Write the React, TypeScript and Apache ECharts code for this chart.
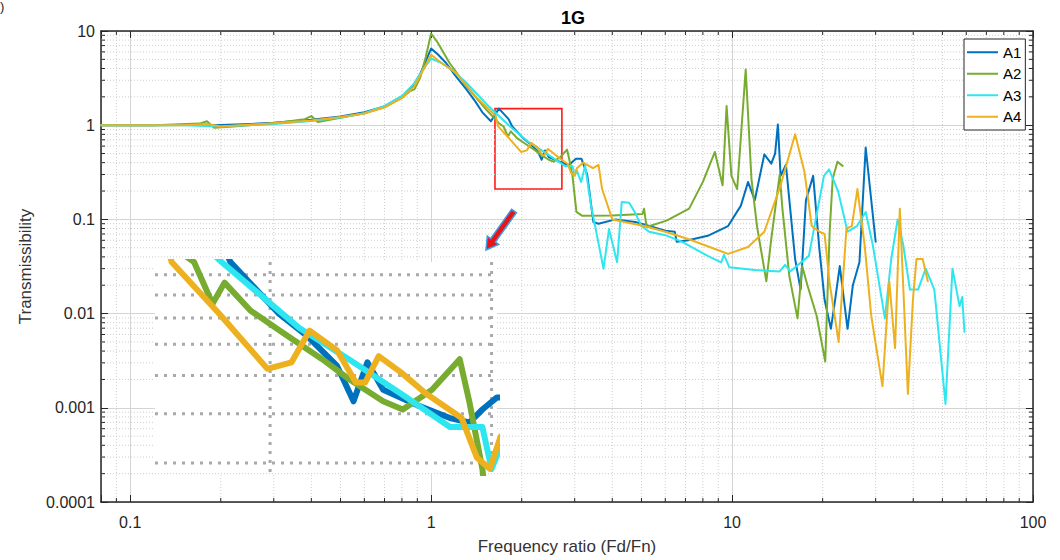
import React, { useEffect, useRef } from "react";
import * as echarts from "echarts";

const seriesNames = ["A1", "A2", "A3", "A4"];
const seriesColors = ["#0072BD", "#77AC30", "#2EE6F0", "#EDB120"];

const a1: number[][] = [
  [0.08, 1.0], [0.12, 1.0], [0.16, 1.01], [0.19, 1.0], [0.25, 1.03], [0.3, 1.06], [0.4, 1.14], [0.5, 1.24],
  [0.6, 1.37], [0.7, 1.58], [0.8, 1.98], [0.87, 2.6], [0.92, 3.5], [0.96, 4.8], [1.0, 6.5], [1.05, 5.7],
  [1.12, 4.6], [1.2, 3.4], [1.31, 2.4], [1.4, 1.8], [1.48, 1.37], [1.58, 1.1], [1.68, 1.5], [1.81, 1.16],
  [1.86, 0.97], [2.03, 0.72], [2.14, 0.63], [2.26, 0.53], [2.33, 0.43], [2.39, 0.54], [2.46, 0.46], [2.62, 0.42],
  [2.78, 0.39], [2.88, 0.38], [2.95, 0.41], [3.03, 0.44], [3.16, 0.44], [3.3, 0.3], [3.46, 0.094], [3.6, 0.09],
  [4.1, 0.1], [4.77, 0.094], [5.14, 0.088], [6.0, 0.076], [6.45, 0.074], [6.55, 0.058], [7.15, 0.06], [8.3, 0.067],
  [9.7, 0.085], [10.7, 0.14], [11.3, 0.25], [11.9, 0.16], [12.8, 0.49], [13.5, 0.39], [13.9, 0.5], [14.2, 1.02],
  [14.5, 0.29], [15.1, 0.38], [16.2, 0.038], [16.9, 0.018], [17.6, 0.16], [18.6, 0.29], [19.5, 0.049], [20.3, 0.014],
  [21.3, 0.0069], [22.0, 0.014], [22.8, 0.032], [24.2, 0.0069], [25.2, 0.02], [26.5, 0.035], [27.8, 0.58], [30.0, 0.058],
];

const a2: number[][] = [
  [0.08, 1.0], [0.12, 1.0], [0.17, 1.04], [0.18, 1.1], [0.19, 0.94], [0.22, 0.97], [0.3, 1.05], [0.38, 1.16],
  [0.4, 1.25], [0.42, 1.08], [0.5, 1.2], [0.6, 1.34], [0.7, 1.55], [0.8, 1.95], [0.85, 2.3], [0.88, 2.4],
  [0.92, 3.2], [0.96, 5.3], [1.0, 9.4], [1.05, 7.6], [1.15, 4.6], [1.31, 2.6], [1.52, 1.48], [1.68, 1.05],
  [1.74, 0.97], [1.8, 0.76], [1.84, 0.86], [1.93, 0.73], [2.05, 0.64], [2.2, 0.55], [2.31, 0.49], [2.46, 0.43],
  [2.55, 0.41], [2.69, 0.46], [2.83, 0.55], [2.88, 0.43], [2.95, 0.29], [3.04, 0.12], [3.18, 0.109], [4.0, 0.11],
  [5.04, 0.114], [5.1, 0.13], [5.2, 0.083], [6.06, 0.097], [7.2, 0.13], [8.0, 0.25], [8.4, 0.37], [8.77, 0.52],
  [9.3, 0.23], [9.59, 1.6], [9.95, 0.29], [10.4, 0.21], [11.1, 3.9], [11.6, 0.27], [12.1, 0.085], [13.0, 0.022],
  [13.5, 0.062], [14.4, 0.3], [14.7, 0.13], [15.5, 0.025], [16.5, 0.0089], [17.1, 0.032], [17.8, 0.02], [19.1, 0.0095],
  [20.4, 0.0031], [21.1, 0.074], [21.6, 0.27], [22.4, 0.41], [23.3, 0.37],
];

const a3: number[][] = [
  [0.08, 1.0], [0.15, 1.0], [0.2, 0.97], [0.3, 1.03], [0.4, 1.11], [0.5, 1.21], [0.6, 1.34], [0.7, 1.6],
  [0.8, 2.05], [0.88, 2.8], [0.94, 3.9], [1.0, 5.1], [1.08, 4.6], [1.17, 3.9], [1.3, 2.9], [1.41, 2.2],
  [1.55, 1.6], [1.68, 1.25], [1.83, 0.97], [2.11, 0.66], [2.31, 0.55], [2.54, 0.45], [2.78, 0.37], [2.95, 0.37],
  [3.0, 0.29], [3.05, 0.33], [3.15, 0.25], [3.25, 0.37], [3.4, 0.14], [3.74, 0.03], [3.9, 0.079], [4.15, 0.035],
  [4.3, 0.153], [4.55, 0.15], [4.75, 0.12], [5.0, 0.085], [5.3, 0.074], [6.0, 0.068], [6.8, 0.058], [8.3, 0.041],
  [9.2, 0.035], [9.4, 0.042], [9.8, 0.031], [11.9, 0.029], [14.4, 0.028], [15.0, 0.033], [15.6, 0.028], [18.0, 0.041],
  [20.2, 0.29], [21.0, 0.34], [22.5, 0.2], [24.2, 0.074], [26.0, 0.085], [27.8, 0.12], [29.4, 0.052], [32.2, 0.0089],
  [33.8, 0.038], [35.5, 0.1], [37.0, 0.055], [39.0, 0.018], [41.5, 0.018], [44.0, 0.03], [47.0, 0.018], [51.2, 0.0011],
  [54.0, 0.03], [57.0, 0.012], [58.2, 0.015], [59.2, 0.0064],
];

const a4: number[][] = [
  [0.08, 1.0], [0.15, 1.0], [0.18, 1.03], [0.2, 0.97], [0.3, 1.05], [0.4, 1.12], [0.5, 1.22], [0.6, 1.33],
  [0.7, 1.55], [0.8, 1.95], [0.88, 2.6], [0.94, 3.8], [1.0, 5.6], [1.08, 4.6], [1.21, 3.6], [1.41, 2.0],
  [1.64, 1.25], [1.67, 0.97], [1.82, 0.72], [1.99, 0.52], [2.08, 0.54], [2.15, 0.65], [2.26, 0.58], [2.34, 0.48],
  [2.38, 0.48], [2.44, 0.56], [2.54, 0.51], [2.66, 0.45], [2.84, 0.39], [2.92, 0.31], [2.99, 0.29], [3.05, 0.35],
  [3.2, 0.4], [3.45, 0.35], [3.6, 0.38], [3.7, 0.21], [4.0, 0.1], [5.1, 0.085], [6.0, 0.074], [7.15, 0.062],
  [9.0, 0.047], [9.7, 0.043], [11.3, 0.051], [12.8, 0.074], [14.5, 0.23], [16.2, 0.8], [17.4, 0.32], [18.4, 0.085],
  [19.5, 0.074], [20.3, 0.07], [21.1, 0.021], [22.6, 0.005], [24.0, 0.08], [25.0, 0.085], [26.1, 0.21], [27.6, 0.052],
  [29.0, 0.0095], [31.6, 0.0017], [33.3, 0.022], [34.8, 0.0043], [36.1, 0.13], [38.4, 0.0014], [39.9, 0.014], [41.0, 0.038],
  [43.0, 0.038], [44.7, 0.022],
];

const seriesData = [a1, a2, a3, a4];

const xRange = [0.08, 100];
const yRange = [0.0001, 10];
const xMinorTicks = [0.09, 0.2, 0.3, 0.4, 0.5, 0.6, 0.7, 0.8, 0.9, 2, 3, 4, 5, 6, 7, 8, 9, 20, 30, 40, 50, 60, 70, 80, 90];
const yMinorTicks = [
  0.0002, 0.0003, 0.0004, 0.0005, 0.0006, 0.0007, 0.0008, 0.0009,
  0.002, 0.003, 0.004, 0.005, 0.006, 0.007, 0.008, 0.009,
  0.02, 0.03, 0.04, 0.05, 0.06, 0.07, 0.08, 0.09,
  0.2, 0.3, 0.4, 0.5, 0.6, 0.7, 0.8, 0.9,
  2, 3, 4, 5, 6, 7, 8, 9,
];

// zoomed region drawn in the red box, and the range shown by the inset
const boxX = [1.63, 2.72];
const boxY = [0.21, 1.5];
const insetX = [1.62, 3.03];
const insetY = [0.283, 0.97];

const FONT = "'Liberation Sans', Arial, Helvetica, sans-serif";
const AXIS_COLOR = "#262626";

const decadeLabel = (v: number) => {
  const l = Math.log10(v);
  const e = Math.round(l);
  if (Math.abs(l - e) > 0.01) return "";
  return e >= 0 ? String(Math.pow(10, e)) : Math.pow(10, e).toFixed(-e);
};

export default function App() {
  const ref = useRef<HTMLDivElement>(null);

  useEffect(() => {
    if (!ref.current) return;
    const chart = echarts.init(ref.current, undefined, { renderer: "svg" });

    const minorData: number[][] = [
      ...xMinorTicks.map((v) => [v, 1, 0]),
      ...yMinorTicks.map((v) => [1, v, 1]),
    ];
    const insetGridData: number[][] = [
      ...xMinorTicks.filter((v) => v >= insetX[0] && v <= insetX[1]).map((v) => [v, 0.5, 0]),
      ...yMinorTicks.filter((v) => v >= insetY[0] && v <= insetY[1]).map((v) => [2, v, 1]),
    ];

    const mainLines = seriesNames.map((name, i) => ({
      name,
      type: "line",
      xAxisIndex: 0,
      yAxisIndex: 0,
      data: seriesData[i],
      symbol: "none",
      z: 3,
      lineStyle: { color: seriesColors[i], width: 2, join: "round", cap: "round" },
      itemStyle: { color: seriesColors[i] },
      ...(i === 0
        ? {
            markArea: {
              silent: true,
              itemStyle: { color: "rgba(0,0,0,0)", borderColor: "#ff1a1a", borderWidth: 1.6 },
              data: [[{ coord: [boxX[0], boxY[1]] }, { coord: [boxX[1], boxY[0]] }]],
            },
          }
        : {}),
    }));

    const insetLines = seriesNames.map((name, i) => ({
      name,
      type: "line",
      xAxisIndex: 2,
      yAxisIndex: 2,
      data: seriesData[i],
      symbol: "none",
      clip: true,
      z: 12,
      lineStyle: { color: seriesColors[i], width: 6, join: "round", cap: "round" },
      itemStyle: { color: seriesColors[i] },
    }));

    const option: any = {
      animation: false,
      backgroundColor: "#fff",
      title: {
        text: "1G",
        left: 568,
        top: 4,
        textAlign: "center",
        textStyle: { fontFamily: FONT, fontSize: 18, fontWeight: "bold", color: "#000" },
      },
      legend: {
        data: seriesNames,
        orient: "vertical",
        left: 964,
        top: 39,
        icon: "rect",
        itemWidth: 31,
        itemHeight: 2,
        itemGap: 5,
        padding: [5, 4, 5, 3],
        backgroundColor: "#fff",
        borderColor: AXIS_COLOR,
        borderWidth: 1,
        textStyle: { fontFamily: FONT, fontSize: 15, lineHeight: 16.5, color: "#000" },
      },
      grid: [
        { left: 101, top: 31, width: 932, height: 472, containLabel: false },
        { left: 155, top: 262, width: 342, height: 211, containLabel: false },
      ],
      xAxis: [
        {
          type: "log",
          gridIndex: 0,
          min: xRange[0],
          max: xRange[1],
          splitNumber: 3,
          name: "Frequency ratio (Fd/Fn)",
          nameLocation: "middle",
          nameGap: 36,
          nameTextStyle: { fontFamily: FONT, fontSize: 17, color: "#333" },
          axisLine: { lineStyle: { color: AXIS_COLOR, width: 1.5 } },
          axisTick: { inside: true, length: 7, lineStyle: { color: AXIS_COLOR } },
          axisLabel: { formatter: decadeLabel, fontFamily: FONT, fontSize: 16, color: AXIS_COLOR, margin: 12 },
          splitLine: { show: true, lineStyle: { color: "#d4d4d4", width: 1 } },
        },
        {
          type: "log",
          gridIndex: 0,
          position: "top",
          min: xRange[0],
          max: xRange[1],
          splitNumber: 3,
          axisLine: { lineStyle: { color: AXIS_COLOR, width: 1.5 } },
          axisTick: { inside: true, length: 7, lineStyle: { color: AXIS_COLOR } },
          axisLabel: { show: false },
          splitLine: { show: false },
        },
        {
          type: "log",
          gridIndex: 1,
          min: insetX[0],
          max: insetX[1],
          show: false,
        },
      ],
      yAxis: [
        {
          type: "log",
          gridIndex: 0,
          min: yRange[0],
          max: yRange[1],
          splitNumber: 5,
          name: "Transmissibility",
          nameLocation: "middle",
          nameGap: 67,
          nameTextStyle: { fontFamily: FONT, fontSize: 17, color: "#333" },
          axisLine: { lineStyle: { color: AXIS_COLOR, width: 1.5 } },
          axisTick: { inside: true, length: 7, lineStyle: { color: AXIS_COLOR } },
          axisLabel: { formatter: decadeLabel, fontFamily: FONT, fontSize: 16, color: AXIS_COLOR, margin: 6 },
          splitLine: { show: true, lineStyle: { color: "#d4d4d4", width: 1 } },
        },
        {
          type: "log",
          gridIndex: 0,
          position: "right",
          min: yRange[0],
          max: yRange[1],
          splitNumber: 5,
          axisLine: { lineStyle: { color: AXIS_COLOR, width: 1.5 } },
          axisTick: { inside: true, length: 7, lineStyle: { color: AXIS_COLOR } },
          axisLabel: { show: false },
          splitLine: { show: false },
        },
        {
          type: "log",
          gridIndex: 1,
          min: insetY[0],
          max: insetY[1],
          show: false,
        },
      ],
      graphic: [
        {
          type: "text",
          left: 0,
          top: 0,
          style: { text: ")", font: "13px " + FONT, fill: "#222" },
        },
        {
          type: "rect",
          z: 10,
          shape: { x: 155, y: 262, width: 342, height: 211 },
          style: { fill: "#fff" },
          silent: true,
        },
        {
          type: "polygon",
          z: 10,
          shape: {
            points: [
              [516.4, 212.7], [495.4, 242.0], [498.7, 244.4], [486, 250],
              [487.3, 236.2], [490.6, 238.6], [511.6, 209.3],
            ],
          },
          style: { fill: "#e8141b", stroke: "#3a9ee0", lineWidth: 1.5 },
          silent: true,
        },
      ],
      series: [
        {
          type: "custom",
          name: "minor-grid",
          xAxisIndex: 0,
          yAxisIndex: 0,
          z: 1,
          silent: true,
          encode: { x: 0, y: 1 },
          data: minorData,
          renderItem: (params: any, api: any) => {
            const kind = api.value(2);
            const p = api.coord([api.value(0), api.value(1)]);
            const cs = params.coordSys;
            const grid = { stroke: "#cfcfcf", lineWidth: 1, lineDash: [1, 2] };
            const tick = { stroke: AXIS_COLOR, lineWidth: 1 };
            if (kind === 0) {
              return {
                type: "group",
                children: [
                  { type: "line", shape: { x1: p[0], y1: cs.y, x2: p[0], y2: cs.y + cs.height }, style: grid },
                  { type: "line", shape: { x1: p[0], y1: cs.y + cs.height, x2: p[0], y2: cs.y + cs.height - 4 }, style: tick },
                  { type: "line", shape: { x1: p[0], y1: cs.y, x2: p[0], y2: cs.y + 4 }, style: tick },
                ],
              };
            }
            return {
              type: "group",
              children: [
                { type: "line", shape: { x1: cs.x, y1: p[1], x2: cs.x + cs.width, y2: p[1] }, style: grid },
                { type: "line", shape: { x1: cs.x, y1: p[1], x2: cs.x + 4, y2: p[1] }, style: tick },
                { type: "line", shape: { x1: cs.x + cs.width, y1: p[1], x2: cs.x + cs.width - 4, y2: p[1] }, style: tick },
              ],
            };
          },
        },
        ...mainLines,
        {
          type: "custom",
          name: "inset-grid",
          xAxisIndex: 2,
          yAxisIndex: 2,
          z: 11,
          silent: true,
          encode: { x: 0, y: 1 },
          data: insetGridData,
          renderItem: (params: any, api: any) => {
            const kind = api.value(2);
            const p = api.coord([api.value(0), api.value(1)]);
            const cs = params.coordSys;
            const style = { stroke: "#a9a9a9", lineWidth: 3, lineDash: [3, 6] };
            if (kind === 0) {
              return { type: "line", shape: { x1: p[0], y1: cs.y, x2: p[0], y2: cs.y + cs.height }, style };
            }
            return { type: "line", shape: { x1: cs.x, y1: p[1], x2: cs.x + cs.width, y2: p[1] }, style };
          },
        },
        ...insetLines,
      ],
    };

    chart.setOption(option);
    return () => chart.dispose();
  }, []);

  return (
    <div
      ref={ref}
      style={{ position: "fixed", left: 0, top: 0, width: 1060, height: 560, background: "#fff" }}
    />
  );
}
